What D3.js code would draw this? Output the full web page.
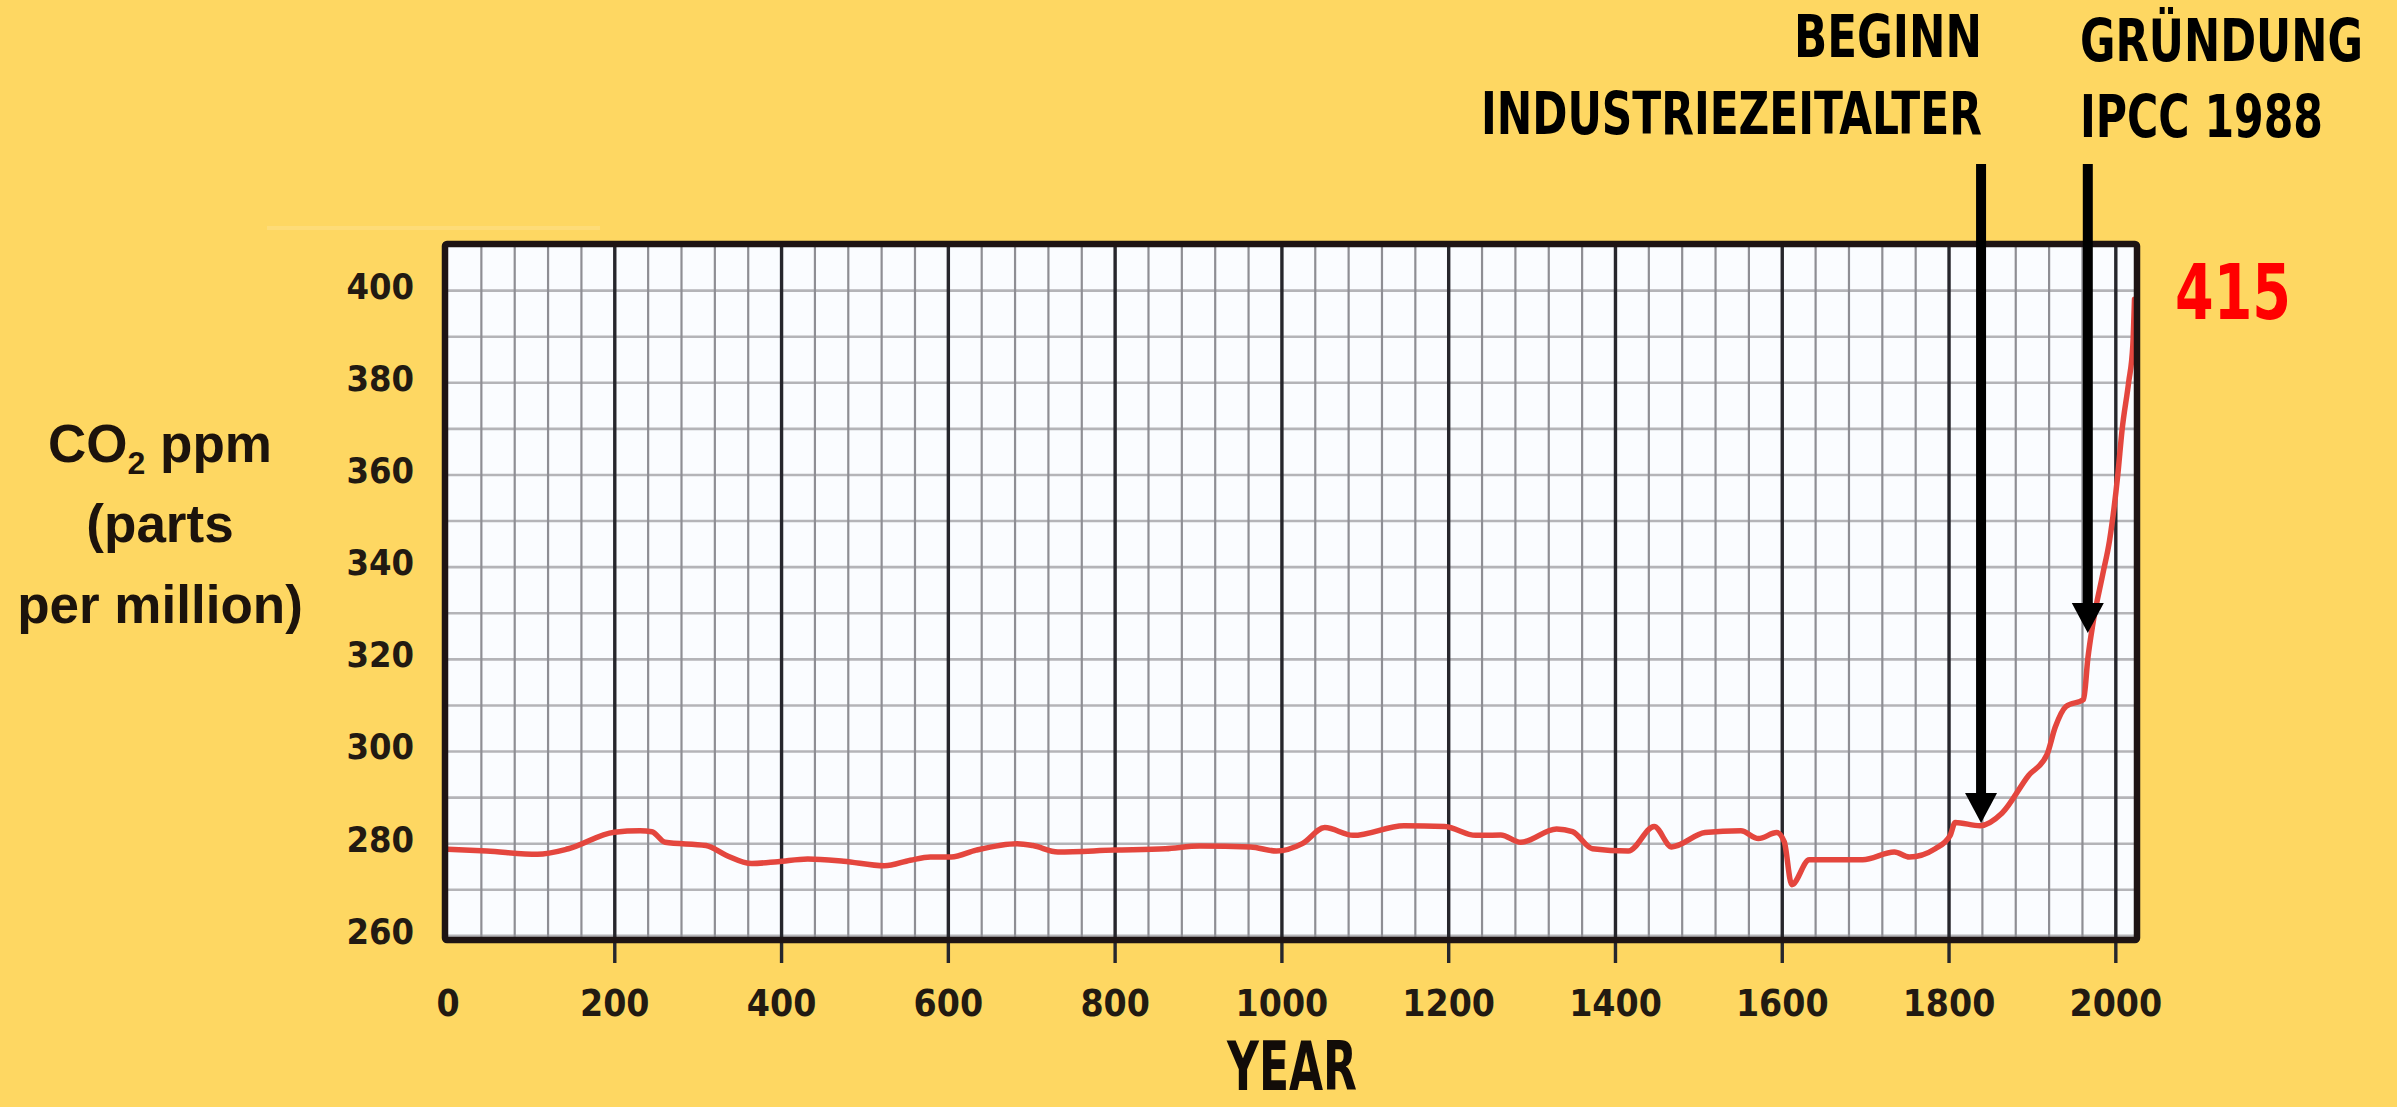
<!DOCTYPE html>
<html>
<head>
<meta charset="utf-8">
<script src="https://cdn.jsdelivr.net/npm/d3@7/dist/d3.min.js"></script>
<style>
  html, body { margin: 0; padding: 0; background: #FED762; }
  svg { display: block; }
</style>
</head>
<body>
<svg id="chart" width="2397" height="1107"></svg>
<script>
// ---- Data ----
const years = [0, 47, 108, 145, 200, 231, 245, 261, 310, 334, 365, 396, 432, 475, 524, 555, 579, 604, 634, 683,
  702, 732, 799, 861, 902, 963, 994, 1025, 1052, 1086, 1147, 1196, 1233, 1263, 1287, 1330, 1349, 1373, 1416, 1447,
  1468, 1508, 1551, 1572, 1594, 1603, 1612, 1633, 1697, 1735, 1753, 1784, 1802, 1808, 1838, 1864, 1896, 1918, 1928,
  1941, 1962, 1967, 1973, 1985, 1993, 2003, 2008, 2016, 2021, 2023];
const co2 = [278.7, 278.3, 277.6, 278.8, 282.4, 282.7, 282.5, 280.2, 279.5, 277.4, 275.6, 276.0, 276.6, 276.1, 275.1, 276.3, 277.0, 277.0, 278.5, 279.9,
  279.5, 278.1, 278.5, 278.8, 279.4, 279.2, 278.3, 279.9, 283.4, 281.7, 283.8, 283.6, 281.7, 281.8, 280.2, 283.1, 282.5, 278.8, 278.3, 283.6,
  279.2, 282.3, 282.7, 281.0, 282.3, 280.3, 271.0, 276.4, 276.4, 278.1, 277.0, 278.8, 281.7, 284.5, 283.8, 286.5, 294.7, 299.2, 305.2,
  309.7, 311.2, 320.0, 327.5, 338.4, 345.6, 360.0, 369.5, 380.0, 388.0, 398.0];
const xTicks = [0, 200, 400, 600, 800, 1000, 1200, 1400, 1600, 1800, 2000];
const yTicks = [260, 280, 300, 320, 340, 360, 380, 400];
const yTitleLines = ["CO|2| ppm", "(parts", "per million)"];
const annotations = [
  { lines: ["BEGINN", "INDUSTRIEZEITALTER"], year: 1839, tip: 284.4, align: "end" },
  { lines: ["GRÜNDUNG", "IPCC 1988"], year: 1967, tip: 325.6, align: "start" }
];
const currentValue = "415";
const xTitle = "YEAR";

// ---- Layout ----
const W = 2397, H = 1107;
const plot = { left: 445, right: 2137, top: 244, bottom: 940 };
const svg = d3.select("#chart");
const narrow = "'Liberation Sans Narrow', 'Arial Narrow', 'DejaVu Sans Condensed', sans-serif";
const wide = "'Liberation Sans', Arial, 'DejaVu Sans', sans-serif";

const x = d3.scaleLinear().domain([-3, 2026]).range([plot.left, plot.right]);
const y = d3.scaleLinear().domain([259, 410]).range([plot.bottom, plot.top]);

// text squeezed horizontally to a target width (anchor-aware)
function fitText(parent, str, ax, by, width, size, anchor, fill) {
  const g = parent.append("g");
  const t = g.append("text").attr("x", 0).attr("y", 0)
    .attr("font-family", narrow).attr("font-weight", "bold").attr("font-size", size)
    .attr("fill", fill).text(str);
  const natural = t.node().getComputedTextLength();
  const sx = width / natural;
  let left = ax;
  if (anchor === "end") left = ax - width;
  else if (anchor === "middle") left = ax - width / 2;
  g.attr("transform", `translate(${left},${by}) scale(${sx},1)`);
  return g;
}

svg.append("rect").attr("width", W).attr("height", H).attr("fill", "#FED762");
// faint light streak above plot (artifact in reference)
svg.append("line").attr("x1", 267).attr("x2", 600).attr("y1", 228).attr("y2", 228)
  .attr("stroke", "rgba(255,255,255,0.14)").attr("stroke-width", 4);

svg.append("rect").attr("x", plot.left).attr("y", plot.top)
  .attr("width", plot.right - plot.left).attr("height", plot.bottom - plot.top)
  .attr("fill", "#FAFCFF");

// horizontal grid every 10 ppm
const hGrid = d3.range(260, 410, 10);
svg.append("g").attr("transform", `translate(${plot.left},0)`)
  .call(d3.axisLeft(y).tickValues(hGrid).tickSize(-(plot.right - plot.left)).tickFormat(""))
  .call(g => g.select(".domain").remove())
  .call(g => g.selectAll("line").attr("stroke", "#b4b4b8").attr("stroke-width", 2.6));

// minor vertical grid every 40 years
const vMinor = d3.range(40, 2026, 40).filter(v => v % 200 !== 0);
svg.append("g").attr("transform", `translate(0,${plot.bottom})`)
  .call(d3.axisBottom(x).tickValues(vMinor).tickSize(-(plot.bottom - plot.top)).tickFormat(""))
  .call(g => g.select(".domain").remove())
  .call(g => g.selectAll("line").attr("stroke", "#8e8e94").attr("stroke-width", 2.2));

// major vertical lines every 200 years, extending below as ticks
const vMajor = xTicks.filter(v => v > 0);
svg.append("g").attr("transform", `translate(0,${plot.bottom + 23})`)
  .call(d3.axisBottom(x).tickValues(vMajor).tickSize(-(plot.bottom + 23 - plot.top)).tickFormat(""))
  .call(g => g.select(".domain").remove())
  .call(g => g.selectAll("line").attr("stroke", "#26262c").attr("stroke-width", 3.4));

// red CO2 line
const data = years.map((yr, i) => ({ yr, v: co2[i] }));
const line = d3.line().x(d => x(d.yr)).y(d => y(d.v)).curve(d3.curveMonotoneX);
svg.append("path").datum(data).attr("d", line)
  .attr("fill", "none").attr("stroke", "#E4463E").attr("stroke-width", 5.5)
  .attr("stroke-linejoin", "round").attr("stroke-linecap", "round");

// plot border
svg.append("rect").attr("x", plot.left).attr("y", plot.top)
  .attr("width", plot.right - plot.left).attr("height", plot.bottom - plot.top)
  .attr("fill", "none").attr("stroke", "#1e1414").attr("stroke-width", 6.5).attr("rx", 2);

// x tick labels
svg.append("g").attr("transform", `translate(0,${plot.bottom})`)
  .call(d3.axisBottom(x).tickValues(xTicks).tickSize(0).tickPadding(0).tickFormat(d3.format("d")))
  .call(g => g.select(".domain").remove())
  .call(g => g.selectAll("line").remove())
  .call(g => g.selectAll("text").attr("y", 76).attr("dy", null)
    .attr("font-family", narrow).attr("font-weight", "bold").attr("font-size", 37)
    .attr("fill", "#221a12"));

// y tick labels
svg.append("g").attr("transform", `translate(414,0)`)
  .call(d3.axisLeft(y).tickValues(yTicks).tickSize(0).tickPadding(0).tickFormat(d3.format("d")))
  .call(g => g.select(".domain").remove())
  .call(g => g.selectAll("line").remove())
  .call(g => g.selectAll("text").attr("x", 0).attr("y", -5).attr("dy", "0.36em")
    .attr("font-family", narrow).attr("font-weight", "bold").attr("font-size", 36)
    .attr("fill", "#221a12"));

// y axis title
const yTitle = svg.append("text").attr("text-anchor", "middle")
  .attr("font-family", wide).attr("font-weight", "bold").attr("font-size", 53).attr("fill", "#1c130c");
const yBase = [462, 542, 623];
yTitleLines.forEach((ln, i) => {
  const t = yTitle.append("tspan").attr("x", 160).attr("y", yBase[i]);
  const parts = ln.split("|");
  if (parts.length === 3) {
    t.text(parts[0]);
    yTitle.append("tspan").attr("dy", 12).attr("font-size", 32).text(parts[1]);
    yTitle.append("tspan").attr("dy", -12).text(parts[2]);
  } else {
    t.text(ln);
  }
});

// x axis title
fitText(svg, xTitle, 1292, 1090, 130, 68, "middle", "#120c08");

// annotations with arrows
const annLayout = [
  { tx: 1982, base: [57, 134], lens: [188, 501] },
  { tx: 2080, base: [61, 137], lens: [283, 243] }
];
annotations.forEach((a, i) => {
  const L = annLayout[i];
  a.lines.forEach((ln, j) => {
    fitText(svg, ln, L.tx, L.base[j], L.lens[j], 59, a.align, "#000");
  });
  const ax = x(a.year), tipY = y(a.tip), headH = 30, headW = 32;
  svg.append("line").attr("x1", ax).attr("x2", ax).attr("y1", 164).attr("y2", tipY - headH + 2)
    .attr("stroke", "#000").attr("stroke-width", 10);
  svg.append("path")
    .attr("d", `M${ax - headW / 2},${tipY - headH} L${ax + headW / 2},${tipY - headH} L${ax},${tipY} Z`)
    .attr("fill", "#000");
});

// current value
fitText(svg, currentValue, 2175, 319, 116, 77, "start", "#FF0000");
</script>
</body>
</html>
